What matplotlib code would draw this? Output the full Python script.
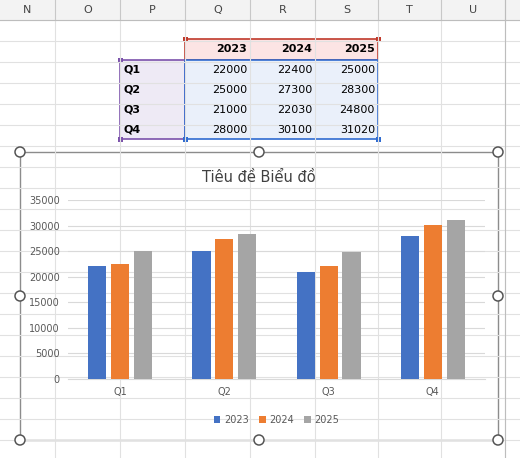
import numpy as np
import matplotlib
matplotlib.use("Agg")
from matplotlib import pyplot as plt
from matplotlib.patches import Rectangle, Circle

# data
quarters = ["Q1", "Q2", "Q3", "Q4"]
years = ["2023", "2024", "2025"]
v2023 = [22000, 25000, 21000, 28000]
v2024 = [22400, 27300, 22030, 30100]
v2025 = [25000, 28300, 24800, 31020]
col_letters = ["N", "O", "P", "Q", "R", "S", "T", "U"]
title = "Tiêu đề Biểu đồ"

colors = ["#4472C4", "#ED7D31", "#A5A5A5"]
W, H = 520, 458
fig = plt.figure(figsize=(W / 100, H / 100), dpi=100)
bg = fig.add_axes([0, 0, 1, 1])
bg.set_xlim(0, W)
bg.set_ylim(H, 0)
bg.axis("off")

# sheet grid
col_edges = [-10, 55, 120, 185, 250, 315, 378, 441, 505]
row_edges = [20, 39, 60, 81, 102, 122, 143]
bg.add_patch(Rectangle((0, 0), W, 20, fc="#F3F3F3", ec="none"))
for i, c in enumerate(col_letters):
    bg.text((col_edges[i] + col_edges[i + 1]) / 2 + 5 * (i == 0), 10, c,
            ha="center", va="center", fontsize=8, color="#444444")
for x in col_edges[1:]:
    bg.plot([x, x], [0, 20], color="#C8C8C8", lw=0.8)
    bg.plot([x, x], [20, H], color="#E1E1E1", lw=0.8)
for y in range(20, H, 21):
    bg.plot([0, W], [y, y], color="#E1E1E1", lw=0.8)
bg.plot([0, W], [20, 20], color="#BDBDBD", lw=0.8)
bg.plot([505, 505], [0, H], color="#BDBDBD", lw=0.8)

# table
bg.add_patch(Rectangle((185, 39), 193, 21, fc="#FCE4E4", ec="#C0392B", lw=1.2))
bg.add_patch(Rectangle((120, 60), 65, 79, fc="#EEEAF5", ec="#7B52AB", lw=1.2))
bg.add_patch(Rectangle((185, 60), 193, 79, fc="#EAF0FA", ec="#2F6BD0", lw=1.2))
for j, yr in enumerate(years):
    bg.text(col_edges[j + 4] - 3, 49.5, yr, ha="right", va="center",
            fontsize=8, fontweight="bold")
series = [v2023, v2024, v2025]
for i, q in enumerate(quarters):
    yc = 70 + i * 20
    bg.text(123, yc, q, ha="left", va="center", fontsize=8, fontweight="bold")
    for j in range(3):
        bg.text(col_edges[j + 4] - 3, yc, str(series[j][i]), ha="right",
                va="center", fontsize=8)
for (x, y, c) in [(185, 39, "#C0392B"), (378, 39, "#C0392B"), (120, 60, "#7B52AB"),
                  (120, 139, "#7B52AB"), (185, 139, "#2F6BD0"), (378, 139, "#2F6BD0")]:
    bg.add_patch(Rectangle((x - 2.5, y - 2.5), 5, 5, fc=c, ec="none"))

# chart frame
bg.add_patch(Rectangle((20, 152), 478, 288, fc="white", ec="#8C8C8C", lw=1))
for x in (20, 259, 498):
    for y in (152, 296, 440):
        if x == 259 and y == 296:
            continue
        bg.add_patch(Circle((x, y), 5, fc="white", ec="#555555", lw=1.1, zorder=5))
bg.text(259, 177, title, ha="center", va="center", fontsize=10.5, color="#404040")

# chart
ax = fig.add_axes([68 / W, (H - 379) / H, (485 - 68) / W, (379 - 200) / H])
x = np.arange(len(quarters))
bw = 0.175
for j in range(3):
    ax.bar(x + (j - 1) * 0.22, series[j], bw, color=colors[j], label=years[j], zorder=3)
ax.set_xlim(-0.5, 3.5)
ax.set_ylim(0, 35000)
ax.set_yticks(range(0, 35001, 5000))
ax.set_xticks(x)
ax.set_xticklabels(quarters)
ax.grid(axis="y", color="#D9D9D9", lw=0.8, zorder=0)
for s in ["top", "right", "left"]:
    ax.spines[s].set_visible(False)
ax.spines["bottom"].set_color("#D9D9D9")
ax.tick_params(length=0, labelsize=7, colors="#595959", pad=6)
ax.patch.set_alpha(0)
ax.legend(loc="center", bbox_to_anchor=(0.5, -0.23), ncol=3, frameon=False,
          fontsize=7, handlelength=0.7, handleheight=0.7, columnspacing=1.0,
          handletextpad=0.4, labelcolor="#595959")

fig.savefig("out.png", dpi=100)
